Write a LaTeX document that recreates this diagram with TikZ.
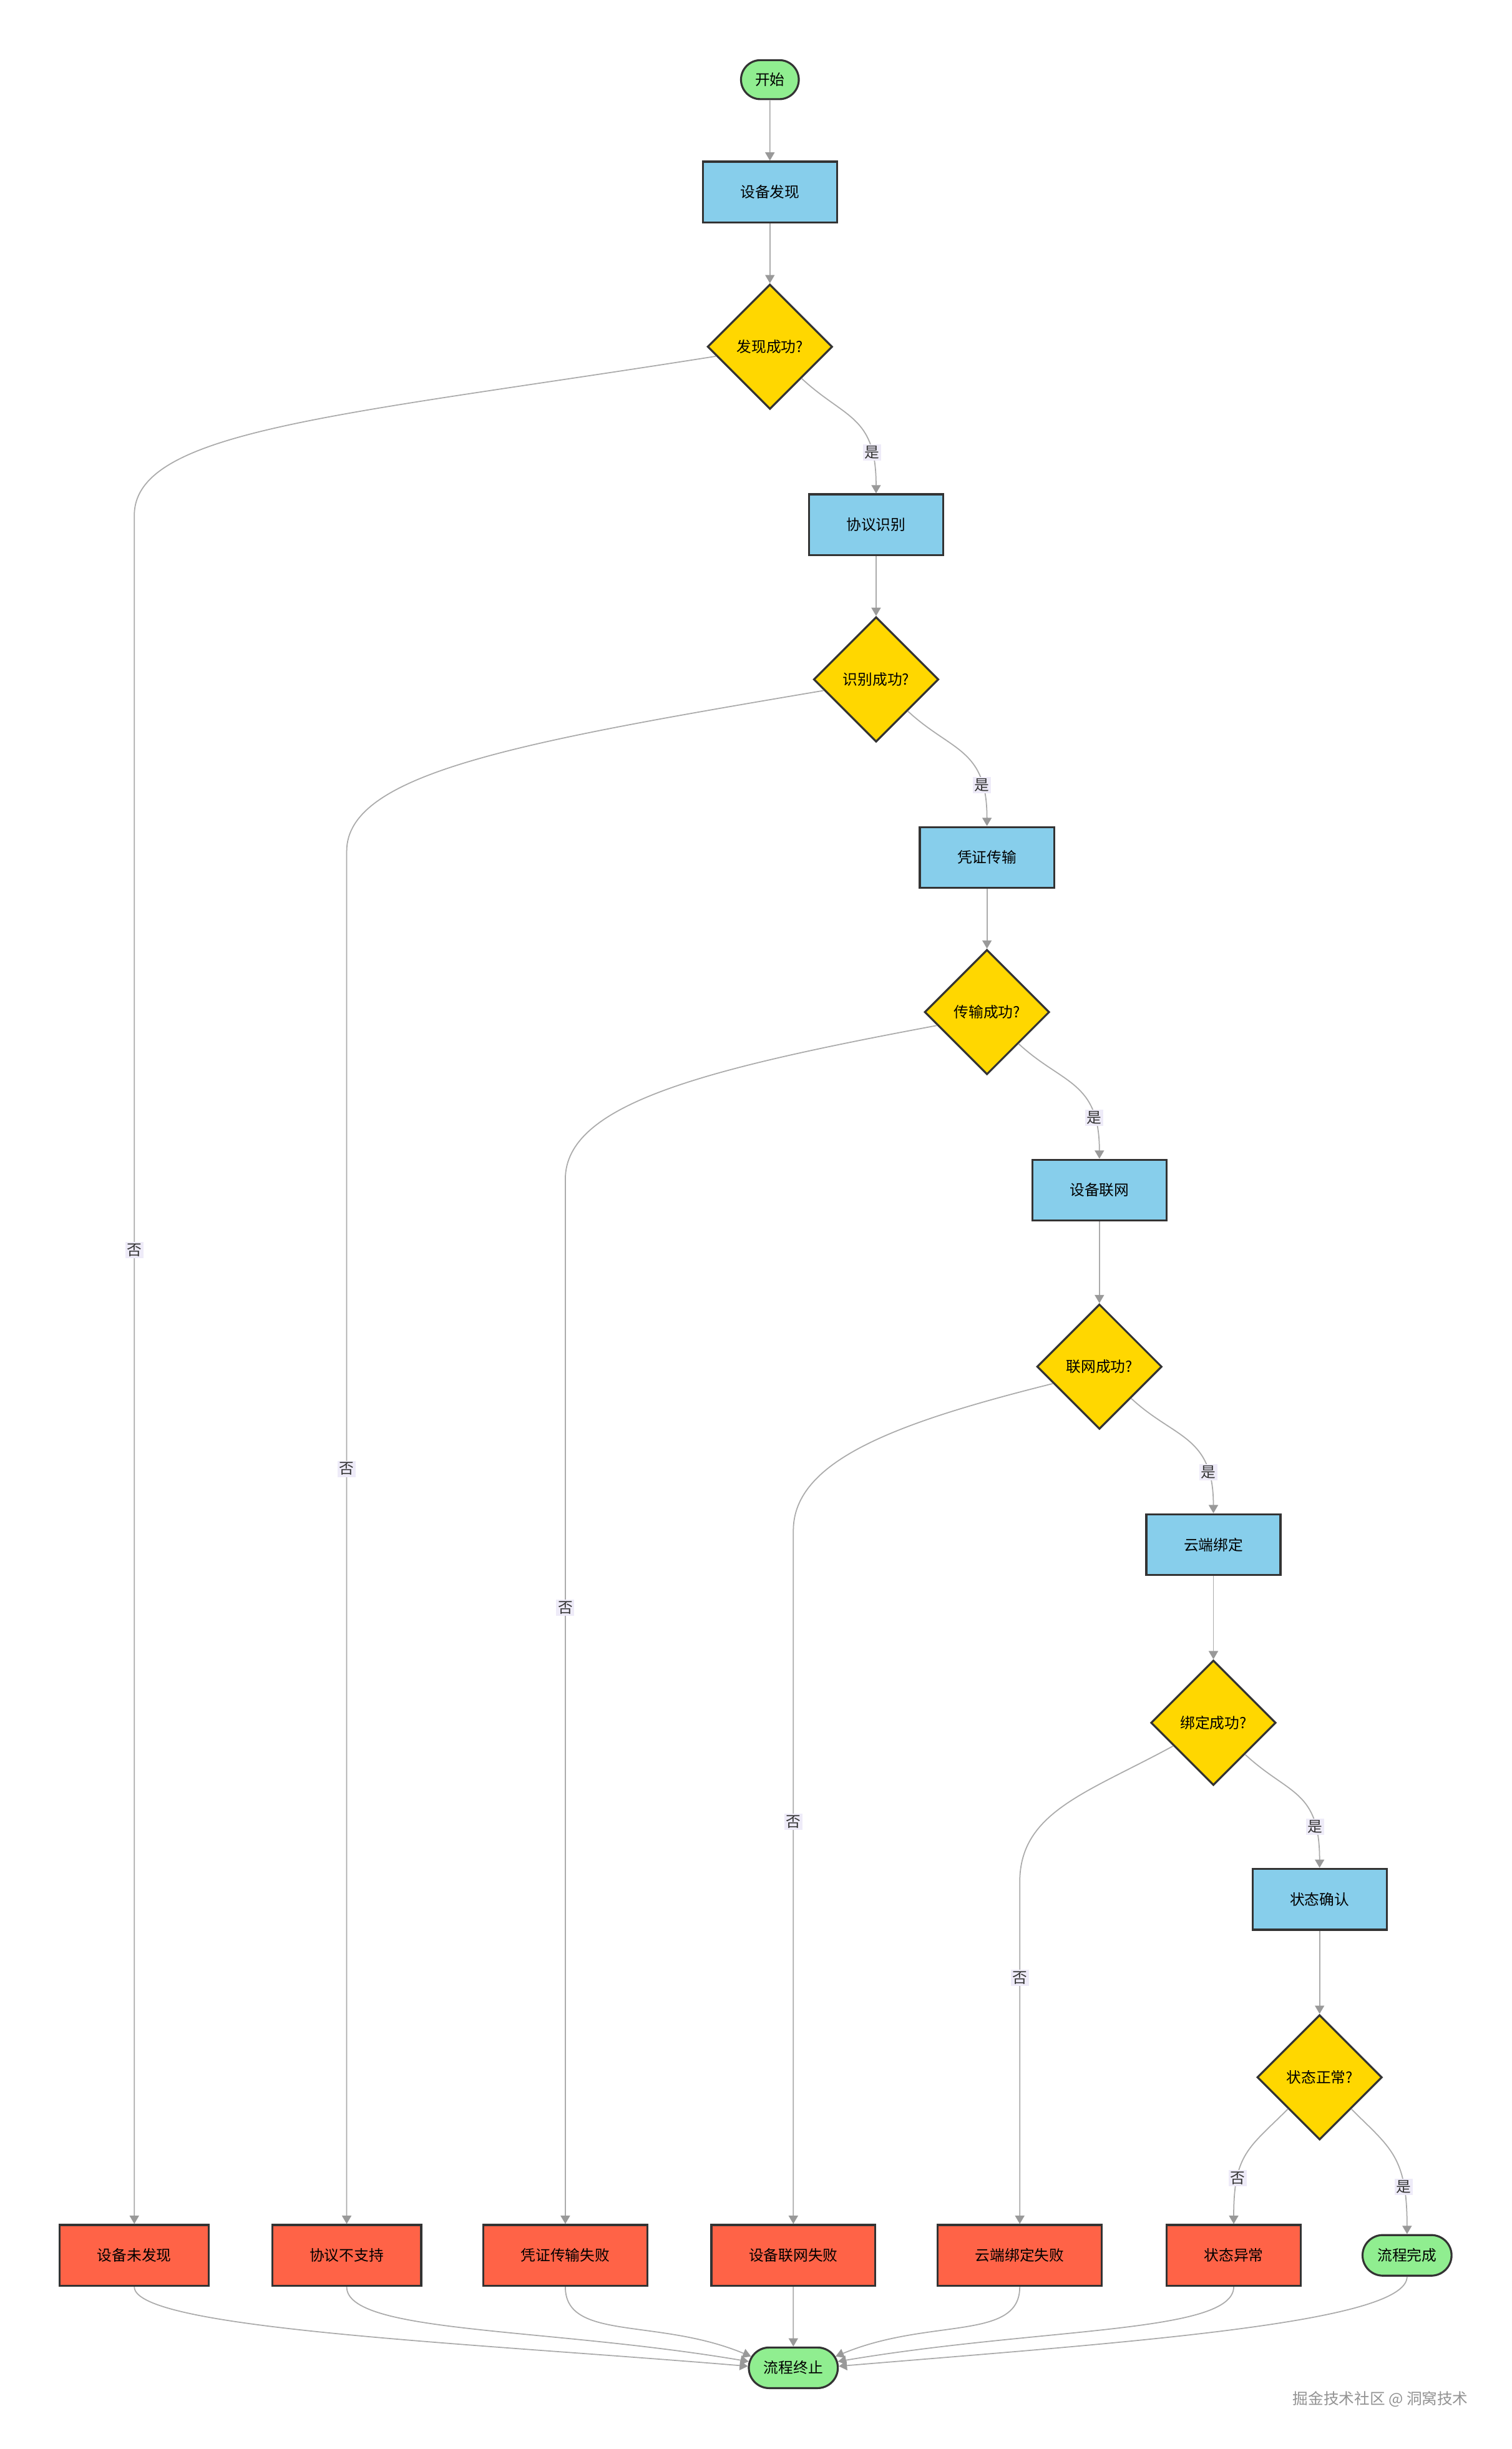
\documentclass[tikz,border=0pt]{standalone}
\usepackage{fontspec}
\setmainfont{Noto Sans CJK SC}
\usepackage{xcolor}
\usepackage{tikz}
\usetikzlibrary{arrows.meta,shapes.geometric,shapes.misc}
\definecolor{termgreen}{HTML}{90EE90}
\definecolor{procblue}{HTML}{87CEEB}
\definecolor{decgold}{HTML}{FFD700}
\definecolor{failred}{HTML}{FF6347}
\definecolor{bordr}{HTML}{333333}
\definecolor{lineg}{HTML}{ABABAB}
\definecolor{arrowg}{HTML}{999999}
\definecolor{lblbg}{HTML}{EEEBF8}
\newcommand{\flowfont}{\fontsize{13.5}{16}\selectfont}
\tikzset{
  term/.style={rounded rectangle, fill=termgreen, draw=bordr, line width=1.8pt, minimum height=1.3cm, minimum width=2.85cm, inner sep=0pt, font=\flowfont},
  proc/.style={rectangle, fill=procblue, draw=bordr, line width=1.8pt, minimum height=1.95cm, inner xsep=1.2cm, font=\flowfont},
  dec/.style={diamond, fill=decgold, draw=bordr, line width=1.8pt, minimum width=4cm, minimum height=4cm, inner sep=0pt, font=\flowfont},
  fail/.style={proc, fill=failred},
  edge/.style={draw=lineg, line width=1pt, -{Triangle[length=7.5pt, width=8.5pt, color=arrowg]}},
  lbl/.style={fill=lblbg, text=bordr, inner sep=1.5pt, font=\flowfont},
  wm/.style={text=gray!85, font=\fontsize{14}{16}\selectfont}
}

\begin{document}
\begin{tikzpicture}[x=0.05cm, y=-0.05cm]
    \fill[white] (0,0) rectangle (968,1568);
    \useasboundingbox (0,0) rectangle (968,1568);
    \node[term, minimum width=1.85cm, minimum height=1.25cm] (st) at (493,51) {开始};
    \node[proc] (s1) at (493,123) {设备发现};
    \node[dec] (d1) at (493,222) {发现成功?};
    \node[proc] (s2) at (561,336) {协议识别};
    \node[dec] (d2) at (561,435) {识别成功?};
    \node[proc] (s3) at (632,549) {凭证传输};
    \node[dec] (d3) at (632,648) {传输成功?};
    \node[proc] (s4) at (704,762) {设备联网};
    \node[dec] (d4) at (704,875) {联网成功?};
    \node[proc] (s5) at (777,989) {云端绑定};
    \node[dec] (d5) at (777,1103) {绑定成功?};
    \node[proc] (s6) at (845,1216) {状态确认};
    \node[dec] (d6) at (845,1330) {状态正常?};
    \node[fail] (f1) at (86,1444) {设备未发现};
    \node[fail] (f2) at (222,1444) {协议不支持};
    \node[fail] (f3) at (362,1444) {凭证传输失败};
    \node[fail] (f4) at (508,1444) {设备联网失败};
    \node[fail] (f5) at (653,1444) {云端绑定失败};
    \node[fail] (f6) at (790,1444) {状态异常};
    \node[term] (ok) at (901,1444) {流程完成};
    \node[term] (en) at (508,1516) {流程终止};
    \node[wm] (wm) at (884,1536) {掘金技术社区 @ 洞窝技术};
    \coordinate (b1) at (86,330);
    \coordinate (b2) at (222,545);
    \coordinate (b3) at (362,755);
    \coordinate (b4) at (508,980);
    \coordinate (b5) at (653,1205);
    \draw[edge] (st)--(s1); \draw[edge] (s1)--(d1);
    \draw[edge] (s2)--(d2); \draw[edge] (s3)--(d3);
    \draw[edge] (s4)--(d4); \draw[edge] (s5)--(d5);
    \draw[edge] (s6)--(d6);
    \draw[edge] (d1.south east) .. controls +(28,26) and +(0,-50) .. node[lbl, pos=0.78] (y1) {是} (s2.north);
    \draw[edge] (d2.south east) .. controls +(28,26) and +(0,-50) .. node[lbl, pos=0.78] (y2) {是} (s3.north);
    \draw[edge] (d3.south east) .. controls +(28,26) and +(0,-50) .. node[lbl, pos=0.78] (y3) {是} (s4.north);
    \draw[edge] (d4.south east) .. controls +(28,26) and +(0,-50) .. node[lbl, pos=0.78] (y4) {是} (s5.north);
    \draw[edge] (d5.south east) .. controls +(28,26) and +(0,-50) .. node[lbl, pos=0.78] (y5) {是} (s6.north);
    \draw[edge] (d6.south east) .. controls +(25,25) and +(0,-50) .. node[lbl, pos=0.75] (y6) {是} (ok.north);
    \draw[edge] (d6.south west) .. controls +(-25,25) and +(0,-45) .. node[lbl, pos=0.72] (n6) {否} (f6.north);
    \draw[edge] (d1.190) .. controls +(-240,38) and +(0,-55) .. (b1) -- node[lbl, pos=0.43] (n1) {否} (f1.north);
    \draw[edge] (d2.192) .. controls +(-195,33) and +(0,-50) .. (b2) -- node[lbl, pos=0.45] (n2) {否} (f2.north);
    \draw[edge] (d3.195) .. controls +(-150,28) and +(0,-48) .. (b3) -- node[lbl, pos=0.41] (n3) {否} (f3.north);
    \draw[edge] (d4.200) .. controls +(-100,25) and +(0,-45) .. (b4) -- node[lbl, pos=0.42] (n4) {否} (f4.north);
    \draw[edge] (d5.210) .. controls +(-55,30) and +(0,-45) .. (b5) -- node[lbl, pos=0.28] (n5) {否} (f5.north);
    \draw[edge] (f1.south) .. controls +(0,27) and +(-180,-15) .. (en.178);
    \draw[edge] (f2.south) .. controls +(0,30) and +(-130,-22) .. (en.172);
    \draw[edge] (f3.south) .. controls +(0,35) and +(-60,-25) .. (en.165);
    \draw[edge] (f4)--(en);
    \draw[edge] (f5.south) .. controls +(0,35) and +(60,-25) .. (en.15);
    \draw[edge] (f6.south) .. controls +(0,30) and +(130,-22) .. (en.8);
    \draw[edge] (ok.south) .. controls +(0,30) and +(180,-15) .. (en.2);
\end{tikzpicture}
\end{document}
